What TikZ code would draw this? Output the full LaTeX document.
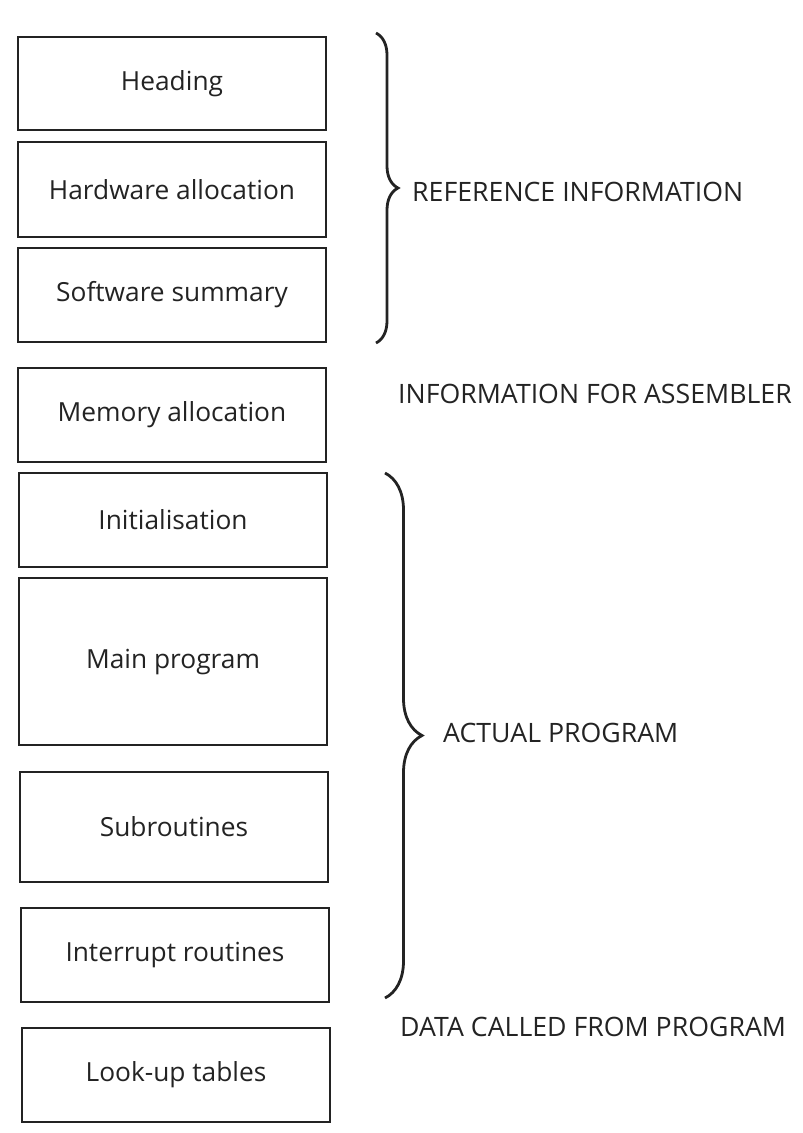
\documentclass[tikz,border=0pt]{standalone}
\usepackage{fontspec}
\setmainfont{Open Sans}
\usetikzlibrary{decorations.pathreplacing}
\definecolor{ink}{HTML}{232323}
\begin{document}
\begin{tikzpicture}[x=1pt,y=-1pt,
  part/.style={draw=ink,line width=1.9pt,minimum width=308pt,inner sep=0pt,
    text=ink,font=\fontsize{26.3}{30}\selectfont},
  label/.style={anchor=west,text=ink,inner sep=0pt,font=\fontsize{26.7}{30}\selectfont},
  grp/.style={draw=ink,line width=2.8pt,decorate,decoration={brace,amplitude=#1}}]
\useasboundingbox (0,0) rectangle (803,1133);
% stacked program sections
\node[part,minimum height=93pt]  (head) at (172,83.5) {Heading};
\node[part,minimum height=95pt]  (hw)   at (172,189.5) {Hardware allocation};
\node[part,minimum height=94pt]  (sw)   at (172,295) {Software summary};
\node[part,minimum height=94pt]  (mem)  at (172,415) {Memory allocation};
\node[part,minimum height=94pt]  (init) at (173,520) {Initialisation};
\node[part,minimum height=167pt] (main) at (173,661.5) {Main program};
\node[part,minimum height=110pt] (sub)  at (174,827) {Subroutines};
\node[part,minimum height=94pt]  (irq)  at (175,955) {Interrupt routines};
\node[part,minimum height=94pt]  (lut)  at (176,1075) {Look-up tables};
% group braces
\coordinate (b1t) at (376,33);
\coordinate (b1b) at (376,343);
\coordinate (b2t) at (385,473);
\coordinate (b2b) at (385,998);
\draw[grp=22pt] (b1t) -- (b1b);
\draw[grp=37pt] (b2t) -- (b2b);
% group labels
\node[label] (refinfo) at (412,192) {REFERENCE INFORMATION};
\node[label] (asm)     at (398,394) {INFORMATION FOR ASSEMBLER};
\node[label] (actual)  at (443,733) {ACTUAL PROGRAM};
\node[label] (data)    at (400,1027) {DATA CALLED FROM PROGRAM};
\end{tikzpicture}
\end{document}
